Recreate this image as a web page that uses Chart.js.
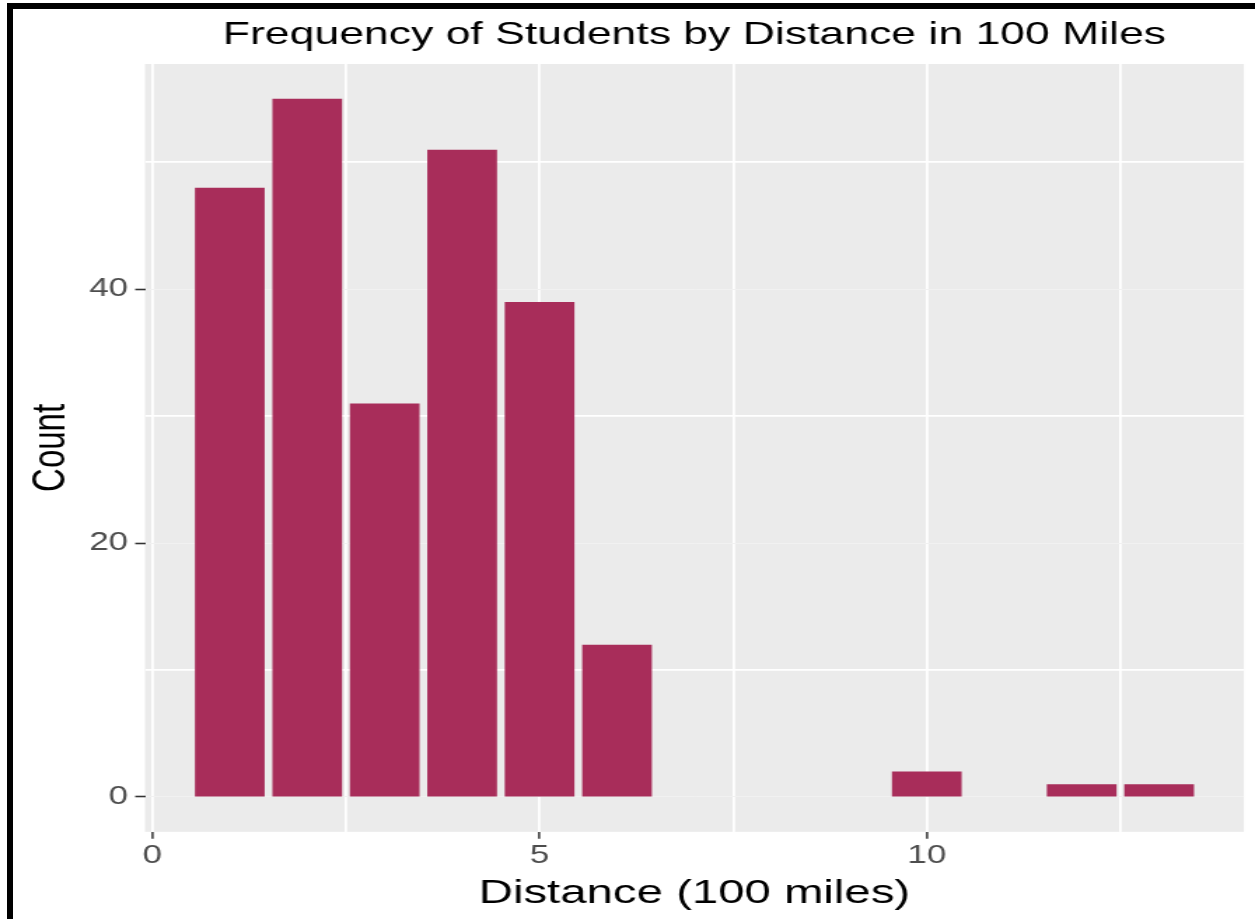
<!DOCTYPE html>
<html><head><meta charset="utf-8">
<script src="https://cdn.jsdelivr.net/npm/chart.js@4.4.0/dist/chart.umd.min.js"></script>
<style>
html,body{margin:0;padding:0;background:#fff;width:1255px;height:919px;overflow:hidden;}
#wrap{position:absolute;left:0;top:0;width:896px;height:919px;transform:scaleX(1.40067);transform-origin:0 0;}
#frame{position:absolute;left:7px;top:3px;width:1300px;height:1000px;border-left:6px solid #000;border-top:6px solid #000;pointer-events:none;}
</style></head><body>
<div id="wrap"><canvas id="c" width="896" height="919"></canvas></div>
<div id="frame"></div>
<script>
const distances = [1, 2, 3, 4, 5, 6, 10, 12, 13];
const counts = [48, 55, 31, 51, 39, 12, 2, 1, 1];
const xMajorTicks = [0, 5, 10];
const xMinorTicks = [2.5, 7.5, 12.5];
const yMajorTicks = [0, 20, 40];
const yMinorTicks = [10, 30, 50];
const titleText = 'Frequency of Students by Distance in 100 Miles';
const xTitleText = 'Distance (100 miles)';
const yTitleText = 'Count';

// ggplot-like 5% expansion of the data range
const halfBar = 0.45;
const xLo = Math.min(...distances) - halfBar, xHi = Math.max(...distances) + halfBar;
const xPad = (xHi - xLo) * 0.05;
const yHi = Math.max(...counts), yPad = yHi * 0.05;

const FONT = "'Liberation Sans', Arial, sans-serif";

const panelBg = {
  id: 'panelBg',
  beforeDraw(chart) {
    const { ctx, chartArea: a } = chart;
    ctx.save();
    ctx.fillStyle = '#EBEBEB';
    ctx.fillRect(a.left, a.top, a.right - a.left, a.bottom - a.top);
    ctx.restore();
  }
};

const tickVal = c => (c && c.tick) ? c.tick.value : null;

new Chart(document.getElementById('c'), {
  type: 'bar',
  data: {
    datasets: [{
      data: distances.map((d, i) => ({ x: d, y: counts[i] })),
      backgroundColor: '#A82D5A',
      borderWidth: 0,
      barPercentage: 0.9,
      categoryPercentage: 1.0
    }]
  },
  options: {
    responsive: false,
    animation: false,
    devicePixelRatio: 1,
    layout: { padding: { left: 13.6, right: 7.9, top: 10, bottom: 0 } },
    plugins: {
      legend: { display: false },
      tooltip: { enabled: false },
      title: {
        display: true,
        text: titleText,
        fullSize: false,
        color: '#000',
        font: { family: FONT, size: 31.8, weight: 'normal' },
        padding: { top: 6.4, bottom: 9.4 }
      }
    },
    scales: {
      x: {
        type: 'linear',
        min: xLo - xPad,
        max: xHi + xPad,
        offset: false,
        border: { display: false },
        afterBuildTicks: s => { s.ticks = [...xMajorTicks, ...xMinorTicks].sort((a, b) => a - b).map(v => ({ value: v })); },
        grid: {
          offset: false,
          color: '#FFFFFF',
          lineWidth: 1.8,
          tickLength: 7,
          tickWidth: 1.5,
          tickColor: c => xMajorTicks.includes(tickVal(c)) ? '#333333' : 'rgba(0,0,0,0)'
        },
        ticks: {
          autoSkip: false,
          maxRotation: 0,
          padding: 2,
          color: '#4D4D4D',
          font: { family: FONT, size: 25 },
          callback: v => xMajorTicks.includes(v) ? String(v) : ''
        },
        title: {
          display: true,
          text: xTitleText,
          color: '#000',
          font: { family: FONT, size: 33.8 },
          padding: { top: 1, bottom: 4.6 }
        }
      },
      y: {
        type: 'linear',
        min: -yPad,
        max: yHi + yPad,
        border: { display: false },
        afterBuildTicks: s => { s.ticks = [...yMajorTicks, ...yMinorTicks].sort((a, b) => a - b).map(v => ({ value: v })); },
        grid: {
          color: c => yMajorTicks.includes(tickVal(c)) ? '#F1F1F1' : '#FFFFFF',
          lineWidth: c => yMajorTicks.includes(tickVal(c)) ? 1 : 1.7,
          tickLength: 7,
          tickWidth: 1.6,
          tickColor: c => yMajorTicks.includes(tickVal(c)) ? '#333333' : 'rgba(0,0,0,0)'
        },
        ticks: {
          padding: 5,
          color: '#4D4D4D',
          font: { family: FONT, size: 25 },
          callback: v => yMajorTicks.includes(v) ? String(v) : ''
        },
        title: {
          display: true,
          text: yTitleText,
          color: '#000',
          font: { family: FONT, size: 33 },
          padding: { top: 4, bottom: 1.5 }
        }
      }
    }
  },
  plugins: [panelBg]
});
</script>
</body></html>
